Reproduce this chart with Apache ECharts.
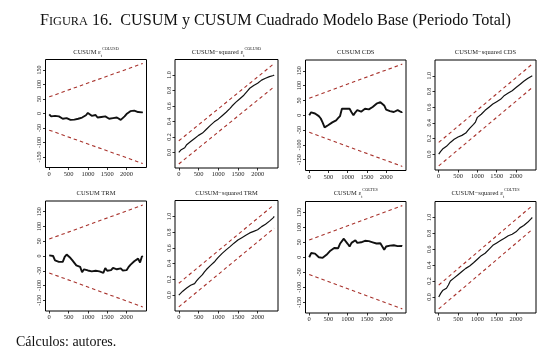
<!DOCTYPE html>
<html><head><meta charset="utf-8">
<script src="https://cdn.jsdelivr.net/npm/echarts@6/dist/echarts.min.js"></script>
<style>html,body{margin:0;padding:0;background:#fff}#c{width:549px;height:357px}</style>
</head><body><div id="c"></div><script>
// ---- data ----
const obsIndex = [0,50,100,150,200,250,300,350,400,450,500,550,600,650,700,750,800,850,900,950,
  1000,1050,1100,1150,1200,1250,1300,1350,1400,1450,1500,1550,1600,1650,1700,1750,1800,1850,1900,1950,
  2000,2050,2100,2150,2200,2250,2300,2350,2400,2420];
const xTicks = [0,500,1000,1500,2000];
const cusumTicks = [-150,-100,-50,0,50,100,150];
const sqTicks = [0,0.2,0.4,0.6,0.8,1.0];
const boundX = [0,2420];
const cusumUpper = [57.5,172.5];
const cusumLower = [-57.5,-172.5];
const sqUpper = [0.15,1.15];
const sqLower = [-0.15,0.85];

const cusumCOLUSD = [-3,-10,-12,-8,-14,-10,-15,-18,-24,-16,-20,-22,-26,-21,-24,-18,-20,-14,-10,-6,
  2,-3,-8,-2,-5,-14,-20,-12,-16,-10,-14,-18,-13,-16,-19,-14,-20,-22,-16,-10,
  -2,2,8,12,10,8,5,7,4,5];
const sqCOLUSD = [0,0.03,0.05,0.06,0.10,0.12,0.14,0.16,0.18,0.20,0.22,0.235,0.25,0.27,0.30,0.325,0.35,0.375,0.395,0.41,
  0.43,0.45,0.475,0.50,0.52,0.545,0.57,0.60,0.625,0.65,0.675,0.695,0.715,0.74,0.77,0.80,0.83,0.845,0.865,0.88,
  0.895,0.915,0.935,0.95,0.96,0.97,0.98,0.99,0.995,1.0];
const cusumCDS = [0,10,12,6,5,-3,-11,-25,-41,-37,-33,-30,-24,-20,-17,-10,-3,22,20,22,
  17,22,10,0,10,17,22,12,18,22,18,20,24,28,34,39,38,44,38,33,
  19,22,14,18,11,12,17,14,10,12];
const sqCDS = [0,0.035,0.065,0.085,0.10,0.125,0.15,0.17,0.19,0.205,0.22,0.23,0.24,0.255,0.27,0.30,0.33,0.355,0.38,0.41,
  0.47,0.49,0.51,0.535,0.56,0.58,0.60,0.62,0.64,0.655,0.67,0.685,0.70,0.725,0.75,0.765,0.78,0.795,0.81,0.83,
  0.85,0.87,0.89,0.91,0.93,0.945,0.965,0.98,0.995,1.0];
const cusumTRM = [2,0,0,-15,-18,-20,-17,-20,-3,5,2,-7,-15,-20,-32,-35,-37,-55,-45,-50,
  -49,-44,-52,-47,-50,-46,-52,-50,-57,-41,-50,-44,-48,-40,-37,-45,-50,-42,-49,-45,
  -48,-38,-30,-26,-18,-23,-9,-22,-1,-3];
const sqTRM = [0,0.025,0.05,0.07,0.09,0.108,0.125,0.135,0.146,0.18,0.21,0.235,0.26,0.295,0.325,0.35,0.375,0.40,0.42,0.45,
  0.48,0.505,0.53,0.555,0.575,0.595,0.616,0.64,0.66,0.68,0.70,0.715,0.73,0.745,0.76,0.775,0.79,0.80,0.81,0.82,
  0.83,0.85,0.87,0.885,0.90,0.92,0.94,0.96,0.985,1.0];
const cusumCOLTES = [0,14,16,12,14,0,4,-2,-7,8,14,22,20,31,34,30,45,42,62,53,
  45,36,48,52,57,48,42,50,50,55,56,54,48,50,50,46,45,47,46,25,
  36,40,39,35,40,38,37,40,38,37];
const sqCOLTES = [0,0.045,0.08,0.095,0.11,0.15,0.20,0.22,0.24,0.26,0.28,0.30,0.32,0.34,0.36,0.375,0.39,0.41,0.43,0.455,
  0.475,0.50,0.52,0.535,0.55,0.575,0.60,0.625,0.65,0.665,0.68,0.695,0.71,0.725,0.74,0.755,0.77,0.78,0.79,0.805,
  0.82,0.84,0.87,0.885,0.90,0.92,0.94,0.965,0.99,1.0];

// ---- layout ----
const FONT = 'Liberation Serif';
const panels = [
  {kind:'c', vals:cusumCOLUSD, t:['CUSUM ε','t','COLUSD'], g:[45.5,59.5,101,108]},
  {kind:'s', vals:sqCOLUSD, t:['CUSUM−squared ε','t','COLUSD'], g:[175,59.5,103,108.5]},
  {kind:'c', vals:cusumCDS, t:['CUSUM CDS'], g:[305.5,60,100.5,110.5]},
  {kind:'s', vals:sqCDS, t:['CUSUM−squared CDS'], g:[435,60,101,110]},
  {kind:'c', vals:cusumTRM, t:['CUSUM TRM'], g:[45.5,201,101,110]},
  {kind:'s', vals:sqTRM, t:['CUSUM−squared TRM'], g:[175,200.5,103,110.5]},
  {kind:'c', vals:cusumCOLTES, t:['CUSUM ε','t','COLTES'], g:[305.5,201.5,100.5,111.5]},
  {kind:'s', vals:sqCOLTES, t:['CUSUM−squared ε','t','COLTES'], g:[435,201.5,101,111.5]}
];

const grids=[], xAxes=[], yAxes=[], series=[], titles=[];
const xR = boundX[1]-boundX[0];
panels.forEach((p,i)=>{
  const [l,t,w,h]=p.g;
  grids.push({left:l,top:t,width:w,height:h,show:true,borderColor:'#000',borderWidth:1,backgroundColor:'transparent'});
  xAxes.push({type:'value',gridIndex:i,position:'bottom',min:boundX[0]-0.04*xR,max:boundX[1]+0.04*xR,
    axisLine:{show:false,onZero:false},splitLine:{show:false},
    axisTick:{show:true,inside:false,length:2.5,lineStyle:{color:'#000',width:0.8},customValues:xTicks},
    axisLabel:{show:true,customValues:xTicks,fontFamily:FONT,fontSize:6.5,color:'#222',margin:3,formatter:v=>String(v)}});
  const up = p.kind==='c'?cusumUpper:sqUpper, lo = p.kind==='c'?cusumLower:sqLower;
  const ymax=Math.max(up[0],up[1]), ymin=Math.min(lo[0],lo[1]), yr=ymax-ymin;
  const ticks = p.kind==='c'?cusumTicks:sqTicks;
  yAxes.push({type:'value',gridIndex:i,position:'left',min:ymin-0.04*yr,max:ymax+0.04*yr,
    axisLine:{show:false,onZero:false},splitLine:{show:false},
    axisTick:{show:true,inside:false,length:2.5,lineStyle:{color:'#000',width:0.8},customValues:ticks},
    axisLabel:{show:true,customValues:ticks,rotate:90,fontFamily:FONT,fontSize:6,color:'#222',margin:3,
      formatter:v=>p.kind==='c'?String(Math.round(v)):v.toFixed(1)}});
  const dash={color:'#a8322c',width:1.1,type:[3.5,3]};
  series.push({type:'line',xAxisIndex:i,yAxisIndex:i,symbol:'none',silent:true,lineStyle:dash,
    data:boundX.map((x,k)=>[x,up[k]])});
  series.push({type:'line',xAxisIndex:i,yAxisIndex:i,symbol:'none',silent:true,lineStyle:dash,
    data:boundX.map((x,k)=>[x,lo[k]])});
  series.push({type:'line',xAxisIndex:i,yAxisIndex:i,symbol:'none',silent:true,
    lineStyle:{color:'#111',width:p.kind==='c'?1.9:1.2},
    data:obsIndex.map((x,k)=>[x,p.vals[k]])});
  let txt = '{a|'+p.t[0]+'}';
  if(p.t.length>1) txt += '{sub|'+p.t[1]+'}{sup|'+p.t[2]+'}';
  titles.push({text:txt,left:l+w/2,top:(i<4?47:188),textAlign:'center',padding:0,
    textStyle:{fontWeight:'normal',rich:{
      a:{fontFamily:FONT,fontSize:6.5,fontWeight:'normal',color:'#222',lineHeight:11,verticalAlign:'middle'},
      sub:{fontFamily:FONT,fontSize:4.2,fontWeight:'normal',color:'#222',lineHeight:5,verticalAlign:'bottom'},
      sup:{fontFamily:FONT,fontSize:4.2,fontWeight:'normal',color:'#222',lineHeight:5,verticalAlign:'top'}}}});
});
titles.push({text:'{f|F}{sc|IGURA}{n| 16.  CUSUM y CUSUM Cuadrado Modelo Base (Periodo Total)}',left:40,top:11,padding:0,
  textStyle:{fontWeight:'normal',rich:{
    f:{fontFamily:FONT,fontSize:16.2,fontWeight:'normal',color:'#111',lineHeight:18,verticalAlign:'bottom'},
    sc:{fontFamily:FONT,fontSize:12.3,fontWeight:'normal',color:'#111',lineHeight:18,verticalAlign:'bottom',padding:[0,0,1,0]},
    n:{fontFamily:FONT,fontSize:16.2,fontWeight:'normal',color:'#111',lineHeight:18,verticalAlign:'bottom'}}}});
titles.push({text:'Cálculos: autores.',left:16,top:335,padding:0,textStyle:{fontFamily:FONT,fontSize:14,fontWeight:'normal',color:'#111'}});

const chart = echarts.init(document.getElementById('c'),null,{renderer:'canvas'});
chart.setOption({animation:false,backgroundColor:'#fff',title:titles,grid:grids,xAxis:xAxes,yAxis:yAxes,series:series});
</script></body></html>
